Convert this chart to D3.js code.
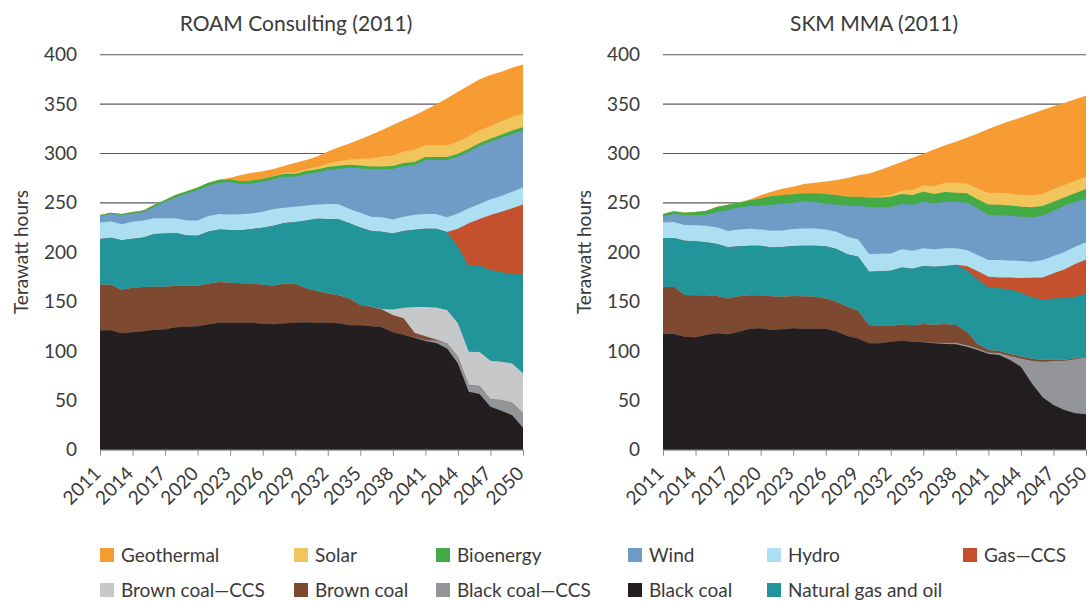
<!DOCTYPE html>
<html>
<head>
<meta charset="utf-8">
<script src="https://cdn.jsdelivr.net/npm/d3@7"></script>
<style>
  body { margin: 0; background: #fff; }
  text { font-family: Lato, "Noto Sans", sans-serif; fill: #3a3a3a; }
</style>
</head>
<body>
<script>
// categories
const years = [2011,2012,2013,2014,2015,2016,2017,2018,2019,2020,2021,2022,2023,2024,2025,2026,2027,2028,2029,2030,
               2031,2032,2033,2034,2035,2036,2037,2038,2039,2040,2041,2042,2043,2044,2045,2046,2047,2048,2049,2050];
const tickYears = [2011,2014,2017,2020,2023,2026,2029,2032,2035,2038,2041,2044,2047,2050];
const valueTicks = [0,50,100,150,200,250,300,350,400];

// stack order, bottom to top
const layerKeys = ["blackCoal","blackCoalCcs","brownCoal","brownCoalCcs","naturalGas","gasCcs","hydro","wind","bioenergy","solar","geothermal"];
const layerNames = {
  geothermal: "Geothermal", solar: "Solar", bioenergy: "Bioenergy", wind: "Wind", hydro: "Hydro", gasCcs: "Gas\u2014CCS",
  brownCoalCcs: "Brown coal\u2014CCS", brownCoal: "Brown coal", blackCoalCcs: "Black coal\u2014CCS", blackCoal: "Black coal",
  naturalGas: "Natural gas and oil"
};
const layerColors = {
  geothermal: "#f69c33", solar: "#f1c55b", bioenergy: "#43aa46", wind: "#6f9cc7", hydro: "#addff3", gasCcs: "#c5502d",
  brownCoalCcs: "#c7c8ca", brownCoal: "#7d4a31", blackCoalCcs: "#949598", blackCoal: "#231f20", naturalGas: "#21959a"
};
const legendRows = [
  ["geothermal","solar","bioenergy","wind","hydro","gasCcs"],
  ["brownCoalCcs","brownCoal","blackCoalCcs","blackCoal","naturalGas"]
];

// ROAM Consulting (2011), TWh
const roamBlackCoal = [121,121,118,119,120,121.5,122,124,124.5,125,127,128.6,128.6,128.6,128.6,127.6,127,128,128.6,129,
                       128.6,128.6,128,126,126,125,124,119,116.5,113.4,110,108,102.6,87.4,58.7,56.4,43.5,39.5,35,22.3];
const roamBlackCoalCcs = [0,0,0,0,0,0,0,0,0,0,0,0,0,0,0,0,0,0,0,0,
                          0,0,0,0,0,0,0,0,0,0.5,1,2.5,5,6.8,6.8,8,7.5,10.8,12.6,14.5];
const roamBrownCoal = [46.4,46,44,45,44.7,43.5,43,42,41.5,41,41.4,41.2,40.4,40,39.8,39.4,39.4,40,39.4,34.4,
                       32,29.7,28.3,27.2,20.5,19.8,18,17.4,16.5,4.6,3.8,1,0,0,0,0,0,0,0,0];
const roamBrownCoalCcs = [0,0,0,0,0,0,0,0,0,0,0,0,0,0,0,0,0,0,0,0,
                          0,0,0,0,0,0,0.5,5.6,10.8,26,29.7,32.5,33.8,33.8,33.7,34.6,39,38.7,39.8,40.5];
const roamNaturalGas = [46,47.6,50,49.6,50.3,53.4,54,53.4,51,50.7,52.6,53.2,53.4,53.6,55,57.8,60.4,61.5,62.5,68.8,
                        73.3,75.3,77,76,78.6,76.6,78.3,77,77.6,78.3,79.3,79.8,79,77.6,86.8,87.7,92,91,90.2,100.3];
const roamGasCcs = [0,0,0,0,0,0,0,0,0,0,0,0,0,0,0,0,0,0,0,0,
                    0,0,0,0,0,0,0,0,0,0,0,0,0,18.2,43.2,47,55.6,61,66.8,70.8];
const roamHydro = [16.6,16.6,16.2,17.2,17.2,15.9,15.3,15,15,15.3,15.6,15.6,15.9,16.2,15.8,16.2,16.9,15.5,15.5,15.2,
                   14.5,15.2,15.2,14.5,14.9,14.6,14.5,14.2,14.6,15.2,14.8,14.8,14.9,15.5,15.2,15.2,15.9,15.9,16.9,17.3];
const roamWind = [6.7,7.7,9.5,8.5,8.5,11.7,16.5,21.2,27.2,31,30.7,31.8,32.7,30.4,30.4,30.4,30.1,31.5,30.5,31.8,
                  32.4,34.4,36.1,41.8,44.8,47.9,48.6,51,51.3,50.3,54.7,54.7,58,57.4,57.4,58.7,58.4,59.1,58.4,57.3];
const roamBioenergy = [1,1,1,1.5,1.5,2,2,2.5,2.5,2.5,3,3,3,3,3,3,3,3,3,3,
                       3,3,3,3,3,3,3,3,3,3,3,3,3,3,3,3,3,3,3.5,3.5];
const roamSolar = [0,0,0,0,0,0,0,0,0,0,0,0,0,0,0,0,0.5,1,1.5,2,
                   2.5,3.5,4.5,5.5,7,8,10,10.8,11.8,12.5,12,12,12,12.5,12.5,13,12.8,13.5,14,14];
const roamGeothermal = [0,0,0,0,0,0,0,0,0,0,0,0,1.5,6.5,7.8,7.5,6.9,7.1,9.6,9.1,
                        10.7,12.4,14.2,16.2,19.5,24,26.8,30.8,31.7,35,35.7,41.4,47.5,50.3,51.6,51.5,51.7,50.3,49.6,49.7];

// SKM MMA (2011), TWh
const skmBlackCoal = [117.1,117.1,114.4,113.8,116.5,117.8,116.8,119.5,122.5,122.9,121.5,121.9,122.9,122.5,122.5,122.5,119.8,115.1,112.7,107.7,
                      107.7,109.4,110.4,109.4,108.7,107.7,107,106.7,104.3,100.9,96.9,95.9,90.8,84,67.2,53,45.2,40.2,36.8,35.8];
const skmBlackCoalCcs = [0,0,0,0,0,0,0,0,0,0,0,0,0,0,0,0,0,0,0,0,
                         0,0,0,0,0.3,0.5,1,1.5,1.5,1.5,1.5,2,4,8.4,23,36,44.6,50,54.7,57.7];
const skmBrownCoal = [47.3,48,42.2,42.5,40,37.8,36.4,36,34,33.4,34,33,32.7,32.8,32.4,30.7,30.1,29.7,28,18.5,
                      17.5,16.2,16.5,16.5,18.3,18.4,19.3,18,14,5,2.5,2,2,2,2,2,1.5,1,1,0.5];
const skmBrownCoalCcs = [0,0,0,0,0,0,0,0,0,0,0,0,0,0,0,0,0,0,0,0,
                         0,0,0,0,0,0,0,0,0,0,0,0,0,0,0,0,0,0,0,0];
const skmNaturalGas = [49.9,49.3,55,54.7,53.7,52.7,51.7,50.6,50,50.3,49.3,50.3,50.6,51.3,51.7,52.7,53.3,53,54.6,54.1,
                       55.4,55.7,57.7,57.4,58.7,58.7,58.7,60.5,62.2,65.1,63.5,63.5,65.6,64.6,62.1,61.2,61.9,62.4,62.4,64.3];
const skmGasCcs = [0,0,0,0,0,0,0,0,0,0,0,0,0,0,0,0,0,0,0,0,
                   0,0,0,0,0,0,0,0.5,4,8.5,10.8,11.1,12.1,14.8,19.9,22.3,25.4,29,33.1,34.4];
const skmHydro = [15.9,16.2,15.9,16.2,16.5,16.8,16.5,16.9,17.2,16.5,16.9,16.9,17.3,17.5,17.5,17.2,17.6,17.9,17.6,17.8,
                  17.9,17.5,18.3,18.2,17.9,17.6,17.9,16.7,16.2,16.1,16.9,17.6,17.2,17.3,16.2,17.6,17.5,17.6,17.6,17.3];
const skmWind = [5.8,8.1,10.1,10.4,11.2,15.6,21.3,22.3,23,23.7,26.3,26.7,26.6,27.4,26.7,26.3,27.3,31.1,34.1,47.3,
                 46.9,46.9,45.9,46.6,47.2,46.5,47.2,47.2,47.9,47.3,45.5,45.2,45.3,44.9,44.9,44.9,45.9,46.9,45.5,44.2];
const skmBioenergy = [2.6,2.8,2.4,3.1,4,5.4,5.4,5.1,6,7.7,8.8,9.1,8.5,8.1,8.8,9.5,9.8,9.4,9.1,10.1,
                      10.1,10.5,10.1,9.8,10.2,9.5,9.8,9.2,9.5,9.1,10.8,10.8,10.4,10.1,10.1,9.8,9.1,8.4,8.5,9.8];
const skmSolar = [0,0,0,0,0,0,0,0,0,0,0,0,0,0,0,0,0,0,0,0.3,
                  1,1.7,3.5,5,6.5,8,9.5,10,10,11,11.5,12,12,12,12.3,12.3,12.8,12.5,12.8,12.5];
const skmGeothermal = [0,0,0,0,0,0,0,0,0.7,3.1,4.4,6.4,7.7,9.4,10.8,12.8,15.2,18.9,21.9,24,
                       26.7,29.4,28.9,32.8,31.9,37.2,37.8,41.6,46.4,55.8,64.8,69,73.4,78.4,82.6,84.9,83.8,83,82.4,82];

const roamSeries = {
  blackCoal: roamBlackCoal, blackCoalCcs: roamBlackCoalCcs, brownCoal: roamBrownCoal, brownCoalCcs: roamBrownCoalCcs,
  naturalGas: roamNaturalGas, gasCcs: roamGasCcs, hydro: roamHydro, wind: roamWind,
  bioenergy: roamBioenergy, solar: roamSolar, geothermal: roamGeothermal
};
const skmSeries = {
  blackCoal: skmBlackCoal, blackCoalCcs: skmBlackCoalCcs, brownCoal: skmBrownCoal, brownCoalCcs: skmBrownCoalCcs,
  naturalGas: skmNaturalGas, gasCcs: skmGasCcs, hydro: skmHydro, wind: skmWind,
  bioenergy: skmBioenergy, solar: skmSolar, geothermal: skmGeothermal
};

const svg = d3.select("body").append("svg")
  .attr("width", 1091)
  .attr("height", 601);

const y = d3.scaleLinear().domain([0, 400]).range([449.7, 54.7]);

function drawPanel(left, right, title, titleX, series) {
  const x = d3.scaleLinear().domain([2011, 2050]).range([left, right]);
  const g = svg.append("g");

  const rows = years.map((yr, i) => {
    const row = { year: yr };
    layerKeys.forEach(k => { row[k] = series[k][i]; });
    return row;
  });
  const stacked = d3.stack().keys(layerKeys)(rows);

  // gridlines behind the areas
  g.selectAll("line.grid")
    .data(valueTicks.filter(v => v > 0))
    .join("line")
    .attr("class", "grid")
    .attr("x1", left).attr("x2", right)
    .attr("y1", d => y(d)).attr("y2", d => y(d))
    .attr("stroke", "#5a5a5a")
    .attr("stroke-width", 1.1);

  // each layer drawn from the baseline up to its cumulative top, top layer first,
  // so neighbouring layers never leave hairline gaps
  const area = d3.area()
    .x(d => x(d.data.year))
    .y0(y(0))
    .y1(d => y(d[1]));

  g.selectAll("path.layer")
    .data(stacked.slice().reverse())
    .join("path")
    .attr("class", "layer")
    .attr("fill", d => layerColors[d.key])
    .attr("d", area);

  // x axis
  const xAxis = g.append("g")
    .attr("transform", `translate(0,${y(0)})`)
    .call(d3.axisBottom(x).tickValues(tickYears).tickSize(6).tickSizeOuter(0).tickFormat(""));
  xAxis.select(".domain").attr("stroke", "#8c8c8c");
  xAxis.selectAll(".tick line").attr("stroke", "#8c8c8c");

  g.selectAll("text.xlab")
    .data(tickYears)
    .join("text")
    .attr("class", "xlab")
    .attr("text-anchor", "end")
    .attr("font-size", 19)
    .attr("transform", d => `translate(${x(d) + 2},${y(0) + 25}) rotate(-45)`)
    .text(d => d);

  // y axis labels
  const yAxis = g.append("g")
    .attr("transform", `translate(${left},0)`)
    .call(d3.axisLeft(y).tickValues(valueTicks).tickSize(0).tickPadding(23));
  yAxis.select(".domain").remove();
  yAxis.selectAll(".tick text").attr("font-size", 19).attr("font-family", null);

  g.append("text")
    .attr("transform", `translate(${left - 72},252) rotate(-90)`)
    .attr("text-anchor", "middle")
    .attr("font-size", 19)
    .text("Terawatt hours");

  g.append("text")
    .attr("x", titleX)
    .attr("y", 31)
    .attr("text-anchor", "middle")
    .attr("font-size", 21)
    .text(title);
}

drawPanel(100, 523, "ROAM Consulting (2011)", 296, roamSeries);
drawPanel(663, 1086, "SKM MMA (2011)", 874, skmSeries);

// legend
const legendX = [100, 294, 436, 628, 767, 963];
const legendY = [548, 583];
legendRows.forEach((row, r) => {
  const items = svg.append("g").selectAll("g")
    .data(row)
    .join("g")
    .attr("transform", (d, i) => `translate(${legendX[i]},${legendY[r]})`);
  items.append("rect")
    .attr("width", 14).attr("height", 14)
    .attr("fill", d => layerColors[d]);
  items.append("text")
    .attr("x", 21).attr("y", 13.5)
    .attr("font-size", 19)
    .text(d => layerNames[d]);
});
</script>
</body>
</html>
